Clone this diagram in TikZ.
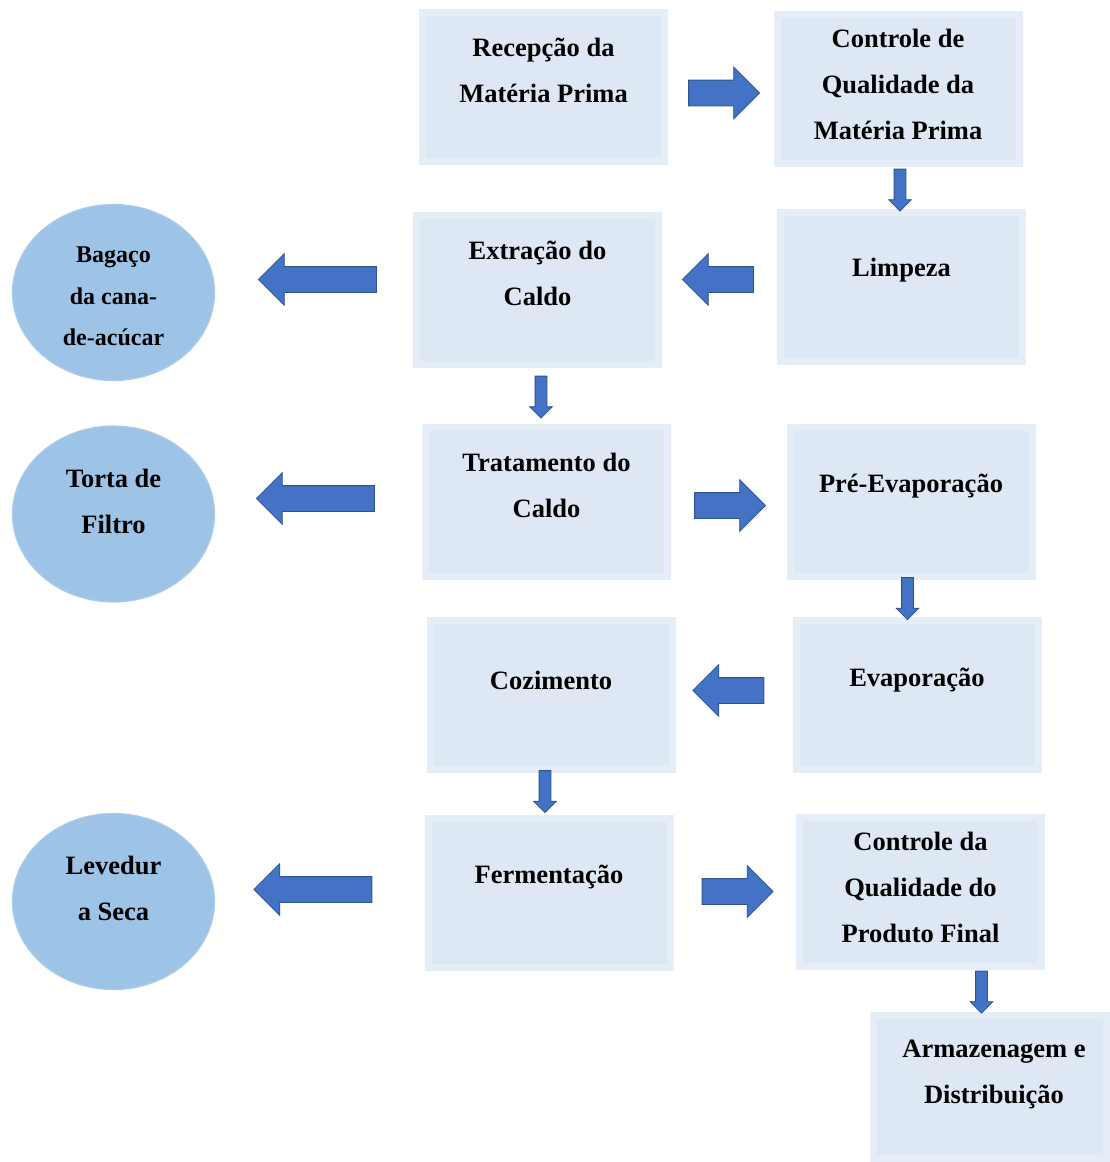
\documentclass[tikz,border=0pt]{standalone}
\usepackage{fontspec}
\setmainfont{Liberation Serif}
\usetikzlibrary{shapes.geometric,shapes.arrows}
\definecolor{boxblue}{HTML}{DEE8F4}
\definecolor{bevelblue}{HTML}{E5EDF8}
\definecolor{ellblue}{HTML}{9DC3E6}
\definecolor{ellrim}{HTML}{AACCEA}
\definecolor{arrowblue}{HTML}{4472C4}
\definecolor{arrowedge}{HTML}{2F528F}
\tikzset{
    box/.style={rectangle,fill=bevelblue,minimum width=249pt,minimum height=156pt,inner sep=0pt,
        path picture={\fill[boxblue] ([xshift=7pt,yshift=7pt]path picture bounding box.south west)
            rectangle ([xshift=-7pt,yshift=-7pt]path picture bounding box.north east);}},
    blob/.style={ellipse,fill=ellblue,draw=ellrim,line width=1.2pt,minimum width=202pt,minimum height=176pt,inner sep=0pt},
    lbl/.style={align=center,inner sep=0pt,font=\fontsize{26.5}{46}\selectfont\bfseries},
    blkarrow/.style={single arrow,fill=arrowblue,draw=arrowedge,line width=0.8pt,inner xsep=0pt,
        single arrow tip angle=90,single arrow head indent=0pt,anchor=tail},
    harrow/.style={blkarrow,inner ysep=12.5pt,single arrow head extend=13pt,minimum width=51pt,minimum height=71pt},
    longarrow/.style={harrow,minimum height=118pt},
    varrow/.style={blkarrow,inner ysep=5.5pt,single arrow head extend=5.5pt,minimum width=22pt,minimum height=42pt,rotate=-90}
}
\begin{document}
\begin{tikzpicture}[x=1pt,y=-1pt]
        \useasboundingbox (0,0) rectangle (1110,1162);
        %% process boxes
        \node[box] (recep) at (543.5,87) {};
        \node[box] (ctrlmp) at (898,88.5) {};
        \node[box] (limpeza) at (901.5,286.5) {};
        \node[box] (extracao) at (537.5,289.5) {};
        \node[box] (tratamento) at (546.5,502) {};
        \node[box] (preevap) at (911,502) {};
        \node[box] (cozimento) at (551,695) {};
        \node[box] (evaporacao) at (917,695) {};
        \node[box] (fermentacao) at (549,893) {};
        \node[box] (ctrlpf) at (920.5,891.5) {};
        \node[box,minimum width=240pt,minimum height=150pt] (armazen) at (990,1087) {};
        %% by-products
        \node[blob] (bagaco) at (113.5,292.5) {};
        \node[blob] (torta) at (113.5,514) {};
        \node[blob] (levedura) at (113.5,901.5) {};
        %% texts
        \node[lbl] (recep-t) at ([yshift=17pt]recep.center) {Recepção da\\Matéria Prima};
        \node[lbl] (ctrlmp-t) at ([yshift=4.5pt]ctrlmp.center) {Controle de\\Qualidade da\\Matéria Prima};
        \node[lbl] (limpeza-t) at ([yshift=16pt]limpeza.center) {Limpeza};
        \node[lbl] (extracao-t) at ([yshift=16.5pt]extracao.center) {Extração do\\Caldo};
        \node[lbl] (tratamento-t) at ([yshift=17pt]tratamento.center) {Tratamento do\\Caldo};
        \node[lbl] (preevap-t) at ([yshift=16pt]preevap.center) {Pré-Evaporação};
        \node[lbl] (cozimento-t) at ([yshift=15pt]cozimento.center) {Cozimento};
        \node[lbl] (evaporacao-t) at ([yshift=15pt]evaporacao.center) {Evaporação};
        \node[lbl] (fermentacao-t) at ([yshift=16pt]fermentacao.center) {Fermentação};
        \node[lbl] (ctrlpf-t) at ([yshift=4.5pt]ctrlpf.center) {Controle da\\Qualidade do\\Produto Final};
        \node[lbl] (armazen-t) at ([xshift=4pt,yshift=13pt]armazen.center) {Armazenagem e\\Distribuição};
        \node[lbl,font=\fontsize{24}{41.5}\selectfont\bfseries] (bagaco-t) at ([yshift=-4pt]bagaco.center) {Bagaço\\da cana-\\de-acúcar};
        \node[lbl] (torta-t) at ([yshift=13pt]torta.center) {Torta de\\Filtro};
        \node[lbl] (levedura-t) at ([yshift=13.5pt]levedura.center) {Levedur\\a Seca};
        %% block arrows
        \node[harrow] (a1) at ([xshift=20pt,yshift=-6pt]recep.east) {};
        \node[varrow] (a2) at ([xshift=2pt,yshift=-2pt]ctrlmp.south) {};
        \node[harrow,rotate=180] (a3) at ([xshift=-23pt,yshift=7pt]limpeza.west) {};
        \node[longarrow,rotate=180] (a4) at ([xshift=-36pt,yshift=10pt]extracao.west) {};
        \node[varrow] (a5) at ([xshift=3.5pt,yshift=-8pt]extracao.south) {};
        \node[longarrow,rotate=180] (a6) at ([xshift=-47pt,yshift=3.5pt]tratamento.west) {};
        \node[harrow] (a7) at ([xshift=23pt,yshift=-3.5pt]tratamento.east) {};
        \node[varrow] (a8) at ([xshift=-3.5pt,yshift=3pt]preevap.south) {};
        \node[harrow,rotate=180] (a9) at ([xshift=-28pt,yshift=4.5pt]evaporacao.west) {};
        \node[varrow] (a10) at ([xshift=-6pt,yshift=3pt]cozimento.south) {};
        \node[longarrow,rotate=180] (a11) at ([xshift=-52pt,yshift=3.5pt]fermentacao.west) {};
        \node[harrow] (a12) at ([xshift=28pt,yshift=1.5pt]fermentacao.east) {};
        \node[varrow] (a13) at ([xshift=61pt,yshift=-1pt]ctrlpf.south) {};
    \end{tikzpicture}
\end{document}
